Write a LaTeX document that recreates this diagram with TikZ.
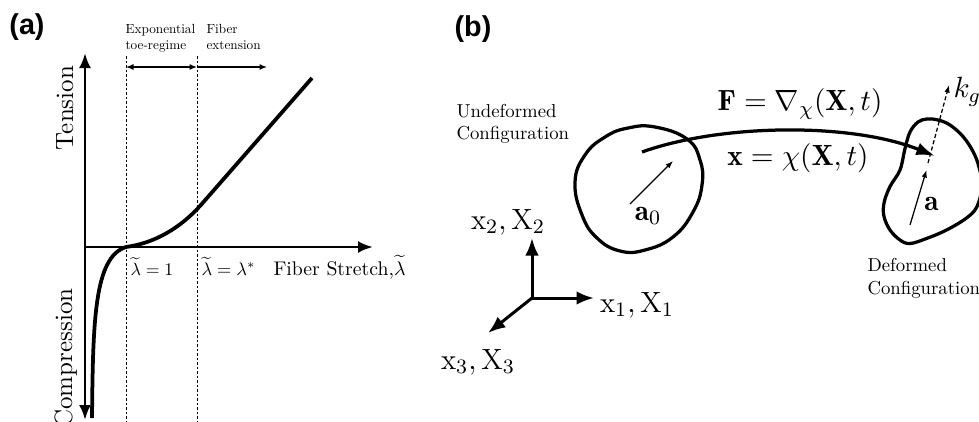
\RequirePackage{fix-cm}
\documentclass[tikz,border=0pt]{standalone}
\usepackage{fontspec}
\usepackage{graphicx}
\newfontfamily\panelfont{Liberation Sans}
\usetikzlibrary{arrows.meta}
\newcommand{\fsz}[2]{\fontsize{#1pt}{#2pt}\selectfont}
\newcommand{\twoline}[3]{\scalebox{#1}{\begin{tabular}{@{}l@{}}#2\\#3\end{tabular}}}
\begin{document}
\begin{tikzpicture}[x=0.4pt,y=-0.4pt,
  panel/.style={font={\panelfont\bfseries\fsz{11.5}{13}},inner sep=0pt},
  axislbl/.style={font=\fsz{10}{12},inner sep=0pt,rotate=90,anchor=base},
  small/.style={font=\fsz{10}{12},inner sep=0pt},
  tinytxt/.style={font=\fsz{10}{12},inner sep=0pt,anchor=west},
  big/.style={font=\fsz{11.7}{14},inner sep=0pt},
  axisline/.style={line width=1.1pt},
  bigtip/.style={-{Latex[length=6pt,width=4.8pt]}},
  thin/.style={line width=0.5pt,-{Latex[length=3pt,width=2.2pt]}},
  dotline/.style={line width=0.4pt,dash pattern=on 1pt off 0.8pt},
  blob/.style={line width=1.3pt,line join=round}]
\useasboundingbox (0,0) rectangle (979,421);

% ---------- panel (a) ----------
\node[panel] (pa) at (27,27) {(a)};
\coordinate (O) at (85,247);
\coordinate (vtop) at (85,53);
\coordinate (vbot) at (85,420);
\coordinate (hend) at (373,247);
\draw[axisline,bigtip] (O) -- (vtop);
\draw[axisline,bigtip] (O) -- (vbot);
\draw[axisline,bigtip] (O) -- (hend);

\coordinate (d1t) at (126,56);
\coordinate (d1b) at (126,421);
\coordinate (d2t) at (197,56);
\coordinate (d2b) at (197,421);
\draw[dotline] (d1t) -- (d1b);
\draw[dotline] (d2t) -- (d2b);

\coordinate (r1) at (126,67);
\coordinate (r2) at (197,67);
\coordinate (r3) at (267,67);
\draw[line width=0.5pt,{Latex[length=3pt,width=2.4pt]}-{Latex[length=3pt,width=2.4pt]}] (r1) -- (r2);
\draw[line width=0.5pt,-{Latex[length=3pt,width=2.4pt]}] (r2) -- (r3);

\node[tinytxt] (expo) at (125,38.5) {\twoline{0.53}{Exponential}{toe-regime}};
\node[tinytxt] (fext) at (206,38.5) {\twoline{0.53}{Fiber}{extension}};

\coordinate (c0) at (92,418);
\coordinate (c1) at (126,247);
\coordinate (c2) at (200,206);
\coordinate (c3) at (312,78);
\draw[line width=1.5pt] (c0) .. controls (93,322) and (94,257) .. (c1)
   .. controls (155,243) and (180,228) .. (c2) -- (c3);

\node[axislbl] (ten) at (73,108) {Tension};
\node[axislbl] (comp) at (72,358) {Compression};

\node[small,anchor=base west] (l1) at (130,275) {\scalebox{0.71}{$\widetilde{\lambda}=1$}};
\node[small,anchor=base west] (l2) at (201,275) {\scalebox{0.73}{$\widetilde{\lambda}=\lambda^{*}$}};
\node[small,anchor=base west] (fs) at (273,275) {\scalebox{0.79}{Fiber Stretch,$\widetilde{\lambda}$}};

% ---------- panel (b) ----------
\node[panel] (pb) at (473,29) {(b)};

\node[tinytxt] (undef) at (456,124) {\twoline{0.75}{Undeformed}{Configuration}};
\node[tinytxt] (def) at (867,278.5) {\twoline{0.75}{Deformed}{Configuration}};

\draw[blob] plot[smooth cycle,tension=0.75] coordinates {
  (655,127) (687,139) (700,160) (702,185) (693,212) (673,237) (645,250) (620,251)
  (597,238) (582,215) (575,182) (585,155) (605,137) (628,128)};

\draw[blob] plot[smooth cycle,tension=0.6] coordinates {
  (927,119) (938,120) (950,125) (963,136.5) (973,151.5) (979,167) (982,186) (977,206.5)
  (966.5,218) (946.5,230) (926.5,238.5) (910,243.5) (900,240) (890,230) (884,216.5)
  (884,203) (890,186.5) (900,170) (905,148.5) (910,132) (918,122)};

\coordinate (cs) at (642,152);
\coordinate (ce) at (935,156);
\draw[line width=1.3pt,-{Latex[length=7.5pt,width=5.2pt]}] (cs) .. controls (720,124) and (850,122) .. (ce);

\node[big] (Flbl) at (800,104) {$\mathbf{F}=\nabla_{\chi}(\mathbf{X},t)$};
\node[big] (xlbl) at (798,158) {$\mathbf{x}=\chi(\mathbf{X},t)$};

\coordinate (a0s) at (630,204);
\coordinate (a0e) at (673,161);
\draw[thin] (a0s) -- (a0e);
\node[big] (a0) at (648,216) {$\mathbf{a}_0$};

\coordinate (as) at (910,225);
\coordinate (ae) at (926.5,170);
\draw[thin] (as) -- (ae);
\node[big] (alab) at (931.5,203.5) {$\mathbf{a}$};

\coordinate (ks) at (928,163);
\coordinate (ke) at (949,85);
\draw[line width=0.5pt,dash pattern=on 1.6pt off 1pt,-{Latex[length=3pt,width=2.2pt]}] (ks) -- (ke);
\node[big,anchor=west] (kg) at (953,92) {$k_g$};

\coordinate (bo) at (532,298);
\coordinate (bup) at (532,238);
\coordinate (bri) at (594,298);
\coordinate (bdi) at (488,333);
\draw[line width=1.2pt,-{Latex[length=7pt,width=5.4pt]}] (bo) -- (bup);
\draw[line width=1.2pt,-{Latex[length=7pt,width=5.4pt]}] (bo) -- (bri);
\draw[line width=1.2pt,-{Latex[length=7pt,width=5.4pt]}] (bo) -- (bdi);
\node[big] (x2) at (508,222) {$\mathrm{x}_2,\mathrm{X}_2$};
\node[big] (x1) at (637,305) {$\mathrm{x}_1,\mathrm{X}_1$};
\node[big] (x3) at (478,362) {$\mathrm{x}_3,\mathrm{X}_3$};
\end{tikzpicture}
\end{document}
